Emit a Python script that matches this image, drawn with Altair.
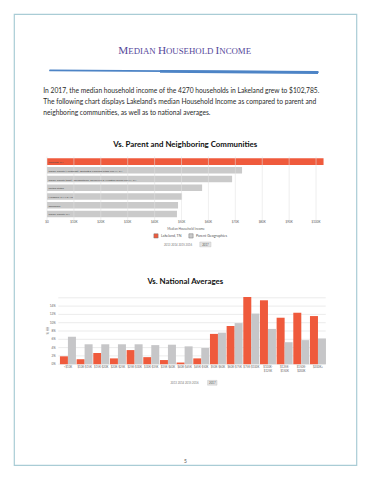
import altair as alt
import pandas as pd

# ---------------- data ----------------
geo_names = [
    "Lakeland, TN",
    "Shelby County (Northeast)--Bartlett & Lakeland Cities PUMA, TN",
    "Shelby County (East)--Germantown, Collierville & Arlington Towns PUMA, TN",
    "United States",
    "Memphis, TN-MS-AR",
    "Tennessee",
    "Shelby County, TN",
]
geo_income = [102785, 72500, 68800, 57652, 50200, 48708, 48300]
geo_kind = ["Lakeland, TN"] + ["Parent Geographies"] * 6

income_ticks = [0, 10000, 20000, 30000, 40000, 50000, 60000, 70000, 80000, 90000, 100000]
income_tick_labels = ["$0", "$10K", "$20K", "$30K", "$40K", "$50K", "$60K", "$70K", "$80K", "$90K", "$100K"]

brackets = [
    "<$10K", "$10K-$15K", "$15K-$20K", "$20K-$25K", "$25K-$30K", "$30K-$35K",
    "$35K-$40K", "$40K-$45K", "$45K-$50K", "$50K-$60K", "$60K-$75K", "$75K-$100K",
    "$100K-\n$125K", "$125K-\n$150K", "$150K-\n$200K", "$200K+",
]
lakeland_pct = [1.9, 1.2, 2.7, 1.4, 3.4, 1.7, 1.0, 0.4, 1.4, 7.3, 9.2, 16.2, 15.4, 11.2, 12.4, 11.6]
national_pct = [6.6, 4.8, 4.8, 4.8, 4.8, 4.6, 4.7, 4.3, 3.9, 7.6, 9.9, 12.2, 8.5, 5.3, 5.8, 6.2]
series_names = ["Lakeland, TN", "National"]

pct_ticks = [0, 2, 4, 6, 8, 10, 12, 14, 16]
pct_tick_labels = ["0%", "2%", "4%", "6%", "8%", "10%", "12%", "14%", ""]

years = ["2013", "2014", "2015", "2016", "2017"]

heading_parts = ["M", "EDIAN", "H", "OUSEHOLD", "I", "NCOME"]
paragraph = [
    "In 2017, the median household income of the 4270 households in Lakeland grew to $102,785.",
    "The following chart displays Lakeland\u2019s median Household Income as compared to parent and",
    "neighboring communities, as well as to national averages.",
]
title1 = "Vs. Parent and Neighboring Communities"
title2 = "Vs. National Averages"
axis1_title = "Median Household Income"
axis2_title = "% HH"
page_number = "5"

# ---------------- style ----------------
RED = "#ef5a3c"
GRAY1 = "#cacaca"
GRAY2 = "#c6c6c8"
SANS = "Lato"
SERIF = "Liberation Serif"
M = 8  # page margin


def px(x):
    return x - M


def py(y):
    return y - M


one = pd.DataFrame({"k": [0]})


def txt(text, x, y, size, color="#333", weight="normal", align="left", font=SANS, angle=0):
    mk = dict(align=align, baseline="middle", fontSize=size, fill=color, fontWeight=weight, font=font)
    if angle:
        mk["angle"] = angle
    return alt.Chart(one).mark_text(**mk).encode(
        x=alt.value(px(x)), y=alt.value(py(y)), text=alt.value(text)
    )


def box(x1, y1, x2, y2, fill="none", stroke="#a8cbd4", sw=1.0):
    return alt.Chart(one).mark_rect(fill=fill, stroke=stroke, strokeWidth=sw).encode(
        x=alt.value(px(x1)), x2=alt.value(px(x2)), y=alt.value(py(y1)), y2=alt.value(py(y2))
    )


# ---------------- page decoration ----------------
border = box(14.3, 14.3, 356.7, 465.3, fill="transparent", stroke="#a9ccd5", sw=1.2)

# small-caps heading: large initials + smaller capitals
head_x = [118.3, 128.3, 157.9, 166.0, 215.6, 219.3]
head_sz = [11.2, 8.8, 11.2, 8.8, 11.2, 8.8]
heading = [
    alt.Chart(one).mark_text(
        align="left", baseline="alphabetic", fontSize=s, fill="#54479a", font=SERIF
    ).encode(x=alt.value(px(x)), y=alt.value(py(54.4)), text=alt.value(t))
    for t, x, s in zip(heading_parts, head_x, head_sz)
]

stroke_a = alt.Chart(one).mark_rule(color="#4d84c6", strokeWidth=1.8, strokeCap="round").encode(
    x=alt.value(px(50)), x2=alt.value(px(318)), y=alt.value(py(70.4)), y2=alt.value(py(72.1))
)
stroke_b = alt.Chart(one).mark_rule(color="#4d84c6", strokeWidth=2.8, strokeCap="butt").encode(
    x=alt.value(px(160)), x2=alt.value(px(318)), y=alt.value(py(71.4)), y2=alt.value(py(72.5))
)

para = [txt(line, 43.3, y, 6.7, color="#2b2b2b") for line, y in zip(paragraph, [91.0, 101.9, 112.6])]

t1 = txt(title1, 185.3, 145.0, 7.9, color="#111", weight="bold", align="center")
t2 = txt(title2, 185.3, 282.0, 7.9, color="#111", weight="bold", align="center")

# ---------------- chart 1: horizontal bars ----------------
df_geo = pd.DataFrame({"name": geo_names, "income": geo_income, "kind": geo_kind})
df_itick = pd.DataFrame({"income": income_ticks, "label": income_tick_labels})

x1 = alt.Scale(domain=[0, 105000], range=[px(47.0), px(329.5)], nice=False, zero=True)
y1 = alt.Scale(domain=geo_names, range=[py(157.3), py(218.3)], paddingInner=0.25, paddingOuter=0.12)

bars1 = alt.Chart(df_geo).mark_bar().encode(
    x=alt.X("income:Q", scale=x1, axis=None),
    y=alt.Y("name:N", scale=y1, axis=None, sort=None),
    color=alt.Color(
        "kind:N",
        scale=alt.Scale(domain=["Lakeland, TN", "Parent Geographies"], range=[RED, GRAY1]),
        legend=alt.Legend(
            title=None, orient="none", legendX=px(153.5), legendY=py(233.2), direction="horizontal",
            symbolType="square", symbolSize=18, symbolStrokeWidth=0.5, symbolStrokeColor="#777",
            labelFontSize=3.6, labelFont=SANS, labelColor="#555", columnPadding=5, labelOffset=2.5,
            padding=0,
        ),
    ),
)
grid1 = alt.Chart(df_itick).mark_rule(color="#e2e2e2", strokeWidth=0.6, opacity=0.9).encode(
    x=alt.X("income:Q", scale=x1, axis=None), y=alt.value(py(156.5)), y2=alt.value(py(220.0))
)
names1 = alt.Chart(df_geo).mark_text(align="left", baseline="middle", fontSize=2.6, fill="#444", font=SANS).encode(
    x=alt.value(px(48.5)), y=alt.Y("name:N", scale=y1, axis=None, sort=None), text="name:N"
)
chart1 = alt.layer(bars1, grid1, names1)

# tick labels use the same explicit scale (own copy, identical mapping)
ticks1 = alt.Chart(df_itick).mark_text(baseline="middle", fontSize=3.0, font=SANS, fill="#5a5a5a").encode(
    x=alt.X("income:Q", scale=x1, axis=None), y=alt.value(py(221.8)), text="label:N",
)

ax1 = txt(axis1_title, 186, 229.0, 3.2, color="#666", align="center")
sel1_box = box(199.8, 242.0, 211.0, 246.8, fill="#e4e4e4", stroke="#bbbbbb", sw=0.4)
sel1_txt = txt("   ".join(years[:-1]), 164.0, 244.4, 2.8, color="#777")
sel1_last = txt(years[-1], 205.4, 244.4, 2.8, color="#555", align="center")

# ---------------- chart 2: grouped vertical bars ----------------
df_dist = pd.DataFrame({
    "bracket": brackets * 2,
    "series": [series_names[0]] * len(brackets) + [series_names[1]] * len(brackets),
    "pct": lakeland_pct + national_pct,
})
df_ptick = pd.DataFrame({"pct": pct_ticks, "label": pct_tick_labels})
df_brk = pd.DataFrame({"bracket": brackets})

x2s = alt.Scale(domain=brackets, range=[px(59.6), px(326.3)], paddingInner=0.04, paddingOuter=0.02)
y2s = alt.Scale(domain=[0, 16], range=[py(364.2), py(297.8)], nice=False, zero=True)

grid2 = alt.Chart(df_ptick).mark_rule(color="#dedede", strokeWidth=0.6).encode(
    y=alt.Y("pct:Q", scale=y2s, axis=None), x=alt.value(px(58.3)), x2=alt.value(px(325.7))
)
bars2 = alt.Chart(df_dist).mark_bar().encode(
    x=alt.X("bracket:N", scale=x2s, axis=None, sort=None),
    xOffset=alt.XOffset("series:N", scale=alt.Scale(domain=series_names, paddingInner=0, paddingOuter=0)),
    y=alt.Y("pct:Q", scale=y2s, axis=None),
    color=alt.Color("series:N", scale=alt.Scale(domain=series_names, range=[RED, GRAY2]), legend=None),
)
ylab2 = alt.Chart(df_ptick).mark_text(align="right", baseline="middle", fontSize=3.0, fill="#666", font=SANS).encode(
    y=alt.Y("pct:Q", scale=y2s, axis=None), x=alt.value(px(55.6)), text="label:N"
)
xlab2 = alt.Chart(df_brk).mark_text(
    baseline="top", fontSize=2.8, fill="#666", font=SANS, lineBreak="\n", lineHeight=4.2
).encode(
    x=alt.X("bracket:N", scale=x2s, axis=None, sort=None), y=alt.value(py(365.6)), text="bracket:N"
)
chart2 = alt.layer(grid2, bars2, ylab2, xlab2)

ax2 = txt(axis2_title, 48.0, 330.5, 3.0, color="#666", align="center", angle=270)
sel2_box = box(207.6, 380.4, 217.0, 385.2, fill="#e4e4e4", stroke="#bbbbbb", sw=0.4)
sel2_txt = txt("   ".join(years[:-1]), 170.5, 382.8, 2.8, color="#777")
sel2_last = txt(years[-1], 212.3, 382.8, 2.8, color="#555", align="center")

pnum = txt(page_number, 185.4, 460.6, 5.0, color="#555", align="center")

# ---------------- assemble ----------------
layers = [border] + heading + [stroke_a, stroke_b] + para + [
    t1, chart1, ticks1, ax1, sel1_box, sel1_txt, sel1_last,
    t2, chart2, ax2, sel2_box, sel2_txt, sel2_last, pnum,
]

chart = alt.layer(*layers).resolve_scale(
    x="independent", y="independent", color="independent"
).properties(
    width=355, height=464, autosize=alt.AutoSizeParams(type="none"), padding=0,
    background="white",
).configure_view(strokeWidth=0)

chart.save("out.html", embed_options={"renderer": "svg", "actions": False})
